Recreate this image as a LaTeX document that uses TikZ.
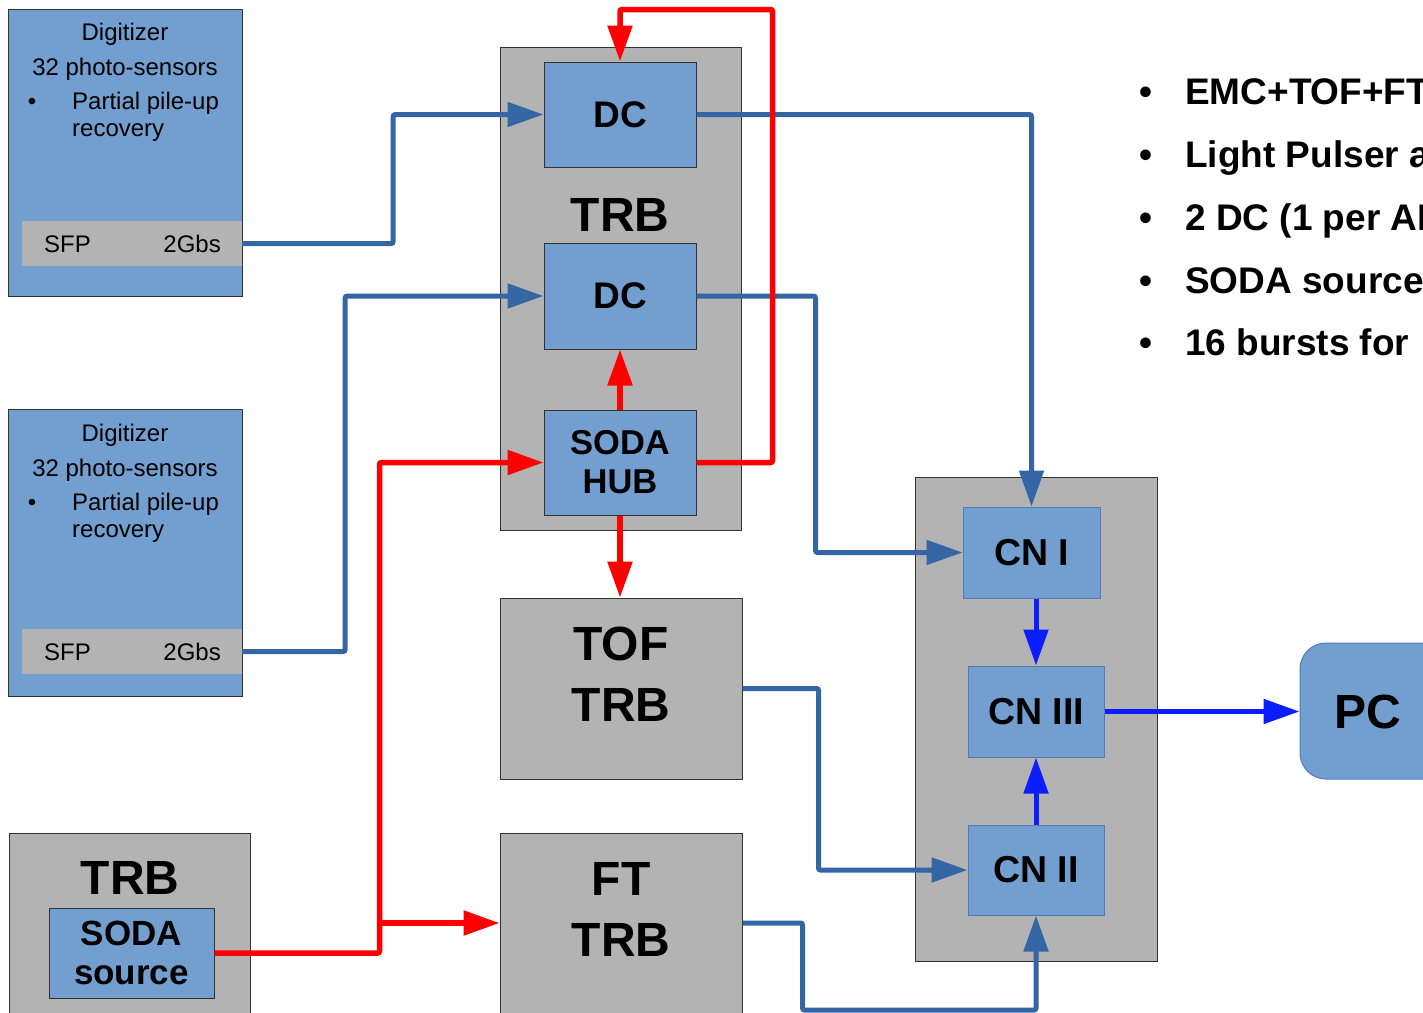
\documentclass[tikz,border=0pt]{standalone}
\usepackage{fontspec}
\setmainfont{Liberation Sans}
\usetikzlibrary{arrows.meta}
\definecolor{boxblue}{RGB}{114,159,207}
\definecolor{boxgray}{RGB}{179,179,179}
\definecolor{lineblue}{RGB}{52,101,164}
\definecolor{brightblue}{RGB}{10,30,255}
\definecolor{lred}{RGB}{255,0,0}
\definecolor{edgegray}{RGB}{50,50,50}
\definecolor{cnedge}{RGB}{80,125,185}
\newcommand{\fs}[2]{\fontsize{#1}{#2}\selectfont}
\begin{document}
\begin{tikzpicture}[x=1pt,y=-1pt,
  outerbox/.style={draw=edgegray,line width=1pt,fill=boxgray,inner sep=0pt},
  innerbox/.style={draw=edgegray,line width=1pt,fill=boxblue,inner sep=0pt,font=\bfseries\fs{37}{42}},
  cnbox/.style={draw=cnedge,line width=1pt,fill=boxblue,inner sep=0pt,font=\bfseries\fs{37.5}{42}},
  digbox/.style={draw=edgegray,line width=1pt,fill=boxblue,inner sep=0pt,minimum width=234,minimum height=287},
  sfpbar/.style={fill=boxgray,inner sep=0pt,minimum width=220,minimum height=45},
  smalltxt/.style={font=\fs{24}{28},inner sep=0pt},
  bigtxt/.style={font=\bfseries\fs{48}{61},align=center,inner sep=0pt},
  bullettxt/.style={font=\bfseries\fs{37}{42},inner sep=0pt},
  arr/.style={-{Triangle[length=36pt,width=24pt]}},
  bline/.style={arr,draw=lineblue,line width=5pt,rounded corners=2pt},
  bbline/.style={arr,draw=brightblue,line width=5pt},
  rline/.style={arr,draw=lred,line width=5.5pt,rounded corners=2pt}
]
\useasboundingbox (0,0) rectangle (1423,1012);
\clip (0,0) rectangle (1423,1012);

% ---- Digitizer 1
\node[digbox] (dig1) at (125,152.5) {};
\node[sfpbar] (sfp1) at (132,243.5) {};
\node[smalltxt,anchor=base] (d1a) at (125,40) {Digitizer};
\node[smalltxt,anchor=base] (d1b) at (125,75) {32 photo-sensors};
\node[smalltxt,anchor=base] (d1c) at (32,109) {\textbullet};
\node[smalltxt,anchor=base west] (d1d) at (72,109) {Partial pile-up};
\node[smalltxt,anchor=base west] (d1e) at (72,136) {recovery};
\node[smalltxt,anchor=base west] (d1f) at (44,252) {SFP};
\node[smalltxt,anchor=base east] (d1g) at (221,252) {2Gbs};

% ---- Digitizer 2
\node[digbox] (dig2) at (125,552.5) {};
\node[sfpbar] (sfp2) at (132,651.5) {};
\node[smalltxt,anchor=base] (d2a) at (125,441) {Digitizer};
\node[smalltxt,anchor=base] (d2b) at (125,476) {32 photo-sensors};
\node[smalltxt,anchor=base] (d2c) at (32,510) {\textbullet};
\node[smalltxt,anchor=base west] (d2d) at (72,510) {Partial pile-up};
\node[smalltxt,anchor=base west] (d2e) at (72,537) {recovery};
\node[smalltxt,anchor=base west] (d2f) at (44,660) {SFP};
\node[smalltxt,anchor=base east] (d2g) at (221,660) {2Gbs};

% ---- TRB with DCs and SODA HUB
\node[outerbox,minimum width=241,minimum height=483] (trb) at (620.5,288.5) {};
\node[bigtxt] (trbl) at (620,215) {TRB};
\node[innerbox,minimum width=152,minimum height=105] (dc1) at (620,114.5) {DC};
\node[innerbox,minimum width=152,minimum height=106] (dc2) at (620,296) {DC};
\node[innerbox,minimum width=152,minimum height=105,align=center,font=\bfseries\fs{34.5}{39}] (hub) at (620,462.5) {SODA\\HUB};

% ---- TOF TRB
\node[outerbox,minimum width=242,minimum height=181] (tof) at (621,688.5) {};
\node[bigtxt] (toft) at (621,674.5) {TOF\\TRB};

% ---- FT TRB
\node[outerbox,minimum width=242,minimum height=180] (ft) at (621,923) {};
\node[bigtxt] (ftt) at (621,909) {FT\\TRB};

% ---- TRB with SODA source
\node[outerbox,minimum width=241,minimum height=180] (trb2) at (129.5,923) {};
\node[bigtxt] (trb2l) at (130,878) {TRB};
\node[innerbox,minimum width=165,minimum height=90,align=center,font=\bfseries\fs{35}{39}] (soda) at (131.5,953) {SODA\\source};

% ---- CN box
\node[outerbox,minimum width=242,minimum height=484] (cnb) at (1036,719) {};
\node[cnbox,minimum width=137,minimum height=91] (cn1) at (1031.5,552.5) {CN I};
\node[cnbox,minimum width=136,minimum height=91] (cn3) at (1036,711.5) {CN III};
\node[cnbox,minimum width=136,minimum height=90] (cn2) at (1036,870) {CN II};

% ---- PC
\node[draw=cnedge,line width=1pt,fill=boxblue,rounded corners=26pt,minimum width=160,minimum height=136] (pc) at (1380,711) {};
\node[bigtxt] (pct) at (1368,712) {PC};

% ---- bullet list
\node[bullettxt,anchor=base] (b1) at (1146,104) {\textbullet};
\node[bullettxt,anchor=base west] (t1) at (1185,104) {EMC+TOF+FT};
\node[bullettxt,anchor=base] (b2) at (1146,167) {\textbullet};
\node[bullettxt,anchor=base west] (t2) at (1185,167) {Light Pulser a};
\node[bullettxt,anchor=base] (b3) at (1146,230) {\textbullet};
\node[bullettxt,anchor=base west] (t3) at (1185,230) {2 DC (1 per AP};
\node[bullettxt,anchor=base] (b4) at (1146,293) {\textbullet};
\node[bullettxt,anchor=base west] (t4) at (1185,293) {SODA source};
\node[bullettxt,anchor=base] (b5) at (1146,355) {\textbullet};
\node[bullettxt,anchor=base west] (t5) at (1185,355) {16 bursts for};

% ---- blue connectors
\draw[bline] (sfp1.east) -- ++(151,0) |- (dc1.west);
\draw[bline] (dc1.east) -| (cn1.north);
\draw[bline] (sfp2.east) -- ++(103,0) |- (dc2.west);
\draw[bline] (dc2.east) -- ++(119,0) |- (cn1.west);
\draw[bline] (tof.east) -- ++(76,0) |- (cn2.west);
\draw[bline] (ft.east) -- ++(60,0) -- ++(0,87) -| (cn2.south);

\draw[bbline] (cn1.south -| cn3.north) -- (cn3.north);
\draw[bbline] (cn2.north) -- (cn3.south);
\draw[bbline] (cn3.east) -- (cn3.east -| pc.west);

% ---- red connectors
\draw[rline] (hub.north) -- (dc2.south);
\draw[rline] (hub.east) -- ++(76,0) -- ++(0,-453) -| (dc1.north);
\draw[rline] (hub.south) -- (hub.south |- tof.north);
\draw[rline] (soda.east) -- ++(165,0) coordinate (rcorner) |- (hub.west);
\draw[rline] (rcorner |- ft.west) -- (ft.west);
\end{tikzpicture}
\end{document}
